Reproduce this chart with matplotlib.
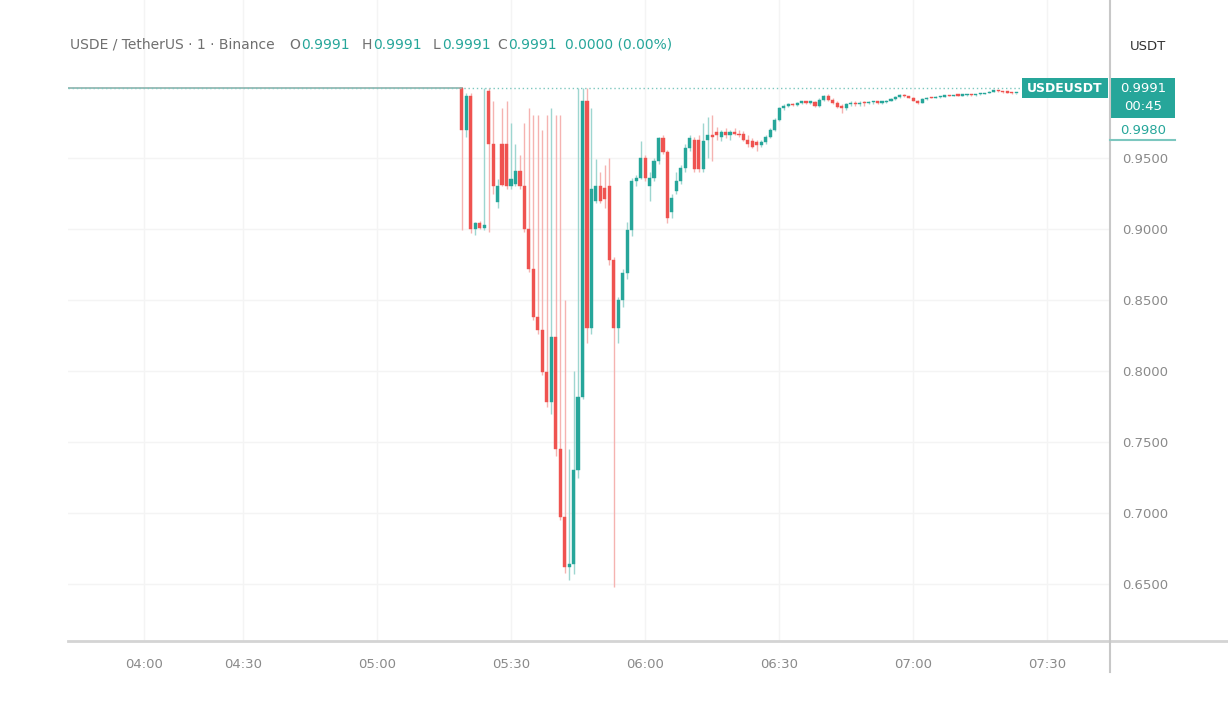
import matplotlib
matplotlib.use("Agg")
import matplotlib.pyplot as plt
import numpy as np
from matplotlib.patches import Rectangle

# ---------------- data ----------------
first_bar = 19  # bar index (minutes after 05:00) of the first candle shown
opens = [.9991, .970, .994, .900, .904, .901, .997, .960, .919, .960, .960, .930, .932, .941, .930, .900,
         .872, .838, .829, .799, .778, .824, .745, .697, .662, .664, .730, .782, .990, .830, .920, .930,
         .929, .930, .878, .830, .850, .869, .899, .934, .936, .950, .930, .936, .948, .964, .954, .912,
         .927, .934, .943, .957, .963, .963, .942, .963, .966, .968, .965, .968, .966, .968, .967, .967,
         .963, .962, .961, .959, .961, .965, .970, .977, .985, .987, .988, .9875, .989, .9895, .989,
         .9895, .987, .991, .994, .991, .989, .987, .985, .988, .989, .988, .989, .9885, .9895, .9895,
         .989, .9895, .9905, .9915, .993, .9945, .9935, .9925, .9905, .989, .9915, .9925, .9922, .993,
         .9932, .994, .9938, .9942, .994, .9944, .9946, .9943, .9948, .9952, .9958, .9968, .9978, .997,
         .9965, .996, .9955]
highs = [.9991, .996, .996, .905, .906, .999, .999, .990, .935, .985, .990, .975, .960, .952, .975, .985,
         .980, .980, .970, .980, .985, .980, .980, .850, .745, .800, .999, .9991, .9991, .985, .949, .940,
         .945, .950, .880, .852, .872, .905, .936, .938, .962, .952, .940, .950, .965, .966, .956, .925,
         .940, .945, .960, .966, .965, .966, .975, .979, .980, .972, .970, .971, .970, .971, .970, .969,
         .966, .964, .963, .963, .966, .971, .978, .986, .988, .989, .989, .9895, .990, .9905, .990,
         .990, .992, .9945, .995, .992, .990, .988, .989, .990, .990, .990, .990, .990, .990, .990,
         .990, .991, .992, .9935, .995, .995, .994, .993, .991, .992, .993, .993, .9935, .9935,
         .9945, .9945, .9945, .9948, .9948, .995, .995, .995, .9955, .996, .997, .998, .998, .9975,
         .997, .9965, .996]
lows = [.899, .965, .897, .896, .900, .899, .898, .925, .915, .930, .928, .928, .930, .928, .898, .870,
        .836, .826, .797, .775, .770, .740, .695, .658, .653, .657, .725, .780, .820, .826, .918, .918,
        .915, .875, .648, .820, .845, .865, .895, .930, .935, .934, .920, .934, .946, .953, .904, .908,
        .925, .932, .940, .955, .940, .940, .940, .950, .948, .963, .962, .964, .963, .966, .965, .962,
        .958, .957, .955, .958, .960, .964, .969, .976, .984, .986, .987, .987, .988, .988, .988,
        .986, .986, .990, .990, .988, .985, .982, .984, .987, .987, .987, .987, .988, .988, .988,
        .988, .989, .990, .991, .9925, .993, .992, .990, .988, .9885, .991, .992, .992, .9925,
        .993, .9935, .9935, .9938, .9938, .994, .994, .994, .9945, .995, .9955, .9965, .9968, .996,
        .9955, .995, .995]
closes = [.970, .994, .900, .904, .901, .903, .960, .930, .930, .931, .930, .935, .941, .930, .900, .872,
          .838, .829, .799, .778, .824, .745, .697, .662, .664, .730, .782, .990, .830, .928, .930, .920,
          .921, .878, .830, .850, .869, .899, .934, .936, .950, .936, .936, .948, .964, .954, .908, .922,
          .934, .943, .957, .964, .942, .942, .962, .966, .965, .966, .968, .966, .968, .967, .966, .963,
          .960, .958, .959, .961, .965, .970, .977, .985, .987, .988, .9875, .989, .9895, .989, .9895,
          .987, .991, .994, .991, .989, .986, .985, .988, .989, .988, .989, .9885, .9895, .9897, .989,
          .9895, .9905, .9915, .993, .9945, .9935, .9925, .9905, .989, .9915, .9925, .9922, .993, .9932,
          .994, .9938, .9942, .994, .9944, .9946, .9943, .9948, .9952, .9958, .9968, .9978, .997, .9965,
          .996, .9955, .9958]

flat_price = 0.9991          # price before the crash
flat_bars = (-69, 19)        # bar span of the flat section
last_price = 0.9991
second_price = 0.9980
price_ticks = [0.65, 0.70, 0.75, 0.80, 0.85, 0.90, 0.95]
time_labels = ["04:00", "04:30", "05:00", "05:30", "06:00", "06:30", "07:00", "07:30"]
time_bar_index = [-52, -30, 0, 30, 60, 90, 120, 150]

header_title = "USDE / TetherUS · 1 · Binance"
header_fields = [("O", "0.9991"), ("H", "0.9991"), ("L", "0.9991"), ("C", "0.9991")]
header_change = "0.0000 (0.00%)"

# ---------------- style ----------------
UP = "#26a69a"
DOWN = "#ef5350"
GRAYTXT = "#8a8a8a"
W, H = 1228, 710

fig = plt.figure(figsize=(W / 100, H / 100), dpi=100)
fig.patch.set_facecolor("white")

def fx(px):
    return px / W

def fy(py):
    return 1 - py / H

ax = fig.add_axes([fx(68), fy(641), fx(1110) - fx(68), fy(0) - fy(641)])
ax.set_facecolor("white")
ax.set_xlim(-69.1, 164.0)
ax.set_ylim(0.6099, 1.0613)

for s in ax.spines.values():
    s.set_visible(False)

# faint grid
for p in price_ticks:
    ax.axhline(p, color="#f4f4f4", lw=1, zorder=0)
for t in time_bar_index:
    ax.axvline(t, color="#f4f4f4", lw=1, zorder=0)

# flat pre-crash section
ax.plot(list(flat_bars), [flat_price, flat_price], color="#9fbdb8", lw=1.4, zorder=2)

# candles
o = np.array(opens); h = np.array(highs); l = np.array(lows); c = np.array(closes)
n = len(o)
idx = np.arange(first_bar, first_bar + n)
up = c >= o
cols = np.where(up, UP, DOWN)
wick_cols = np.where(up, "#9ed6d0", "#f5b3b1")
ax.vlines(idx, l, h, colors=wick_cols, lw=1.0, zorder=3)
bottoms = np.minimum(o, c)
heights = np.maximum(np.abs(c - o), 0.0009)
ax.bar(idx, heights, bottom=bottoms, width=0.7, color=cols, edgecolor=cols, lw=0.3, zorder=4)

# last price dotted line
ax.plot([-69.1, (1022 - 377) / 4.47], [last_price, last_price], color="#7cc7bf", lw=1,
        ls=(0, (1, 2)), zorder=5)

# axes ticks
ax.yaxis.tick_right()
ax.set_yticks(price_ticks)
ax.set_yticklabels([f"{p:.4f}" for p in price_ticks])
ax.tick_params(axis="y", length=0, pad=9, labelsize=9.5, labelcolor=GRAYTXT)
ax.set_xticks(time_bar_index)
ax.set_xticklabels(time_labels)
ax.tick_params(axis="x", length=0, pad=12, labelsize=9.5, labelcolor=GRAYTXT)

# axis frame lines (figure coords)
fig.add_artist(plt.Line2D([fx(68), fx(1228)], [fy(641), fy(641)], color="#d4d4d4", lw=2))
fig.add_artist(plt.Line2D([fx(1110), fx(1110)], [fy(0), fy(672)], color="#c8c8c8", lw=1.5))

# header
renderer = fig.canvas.get_renderer()
t0 = fig.text(fx(70), fy(45), header_title, color="#6f6f6f", fontsize=10, va="center")
xpos = [289, 362, 433, 497]
for (lab, val), xp in zip(header_fields, xpos):
    tl = fig.text(fx(xp), fy(45), lab, color="#6f6f6f", fontsize=10, va="center")
    wpx = tl.get_window_extent(renderer).width
    fig.text(fx(xp + wpx + 1), fy(45), val, color=UP, fontsize=10, va="center")
fig.text(fx(565), fy(45), header_change, color=UP, fontsize=10, va="center")

fig.text(fx(1148), fy(46), "USDT", color="#333333", fontsize=9.5, va="center", ha="center")

# price labels on the right
fig.add_artist(Rectangle((fx(1022), fy(98)), fx(86), fy(78) - fy(98), transform=fig.transFigure,
                         facecolor=UP, edgecolor="none"))
fig.text(fx(1065), fy(88), "USDEUSDT", color="white", fontsize=9, fontweight="bold",
         va="center", ha="center")
fig.add_artist(Rectangle((fx(1110), fy(118)), fx(65), fy(78) - fy(118), transform=fig.transFigure,
                         facecolor=UP, edgecolor="none"))
fig.text(fx(1143), fy(88), f"{last_price:.4f}", color="white", fontsize=9.5, va="center", ha="center")
fig.text(fx(1143), fy(107), "00:45", color="white", fontsize=9.5, va="center", ha="center")
fig.text(fx(1143), fy(130), f"{second_price:.4f}", color=UP, fontsize=9.5, va="center", ha="center")
fig.add_artist(plt.Line2D([fx(1110), fx(1175)], [fy(140), fy(140)], color="#7cc7bf", lw=1.5))

fig.savefig("out.png", dpi=100, facecolor="white")
